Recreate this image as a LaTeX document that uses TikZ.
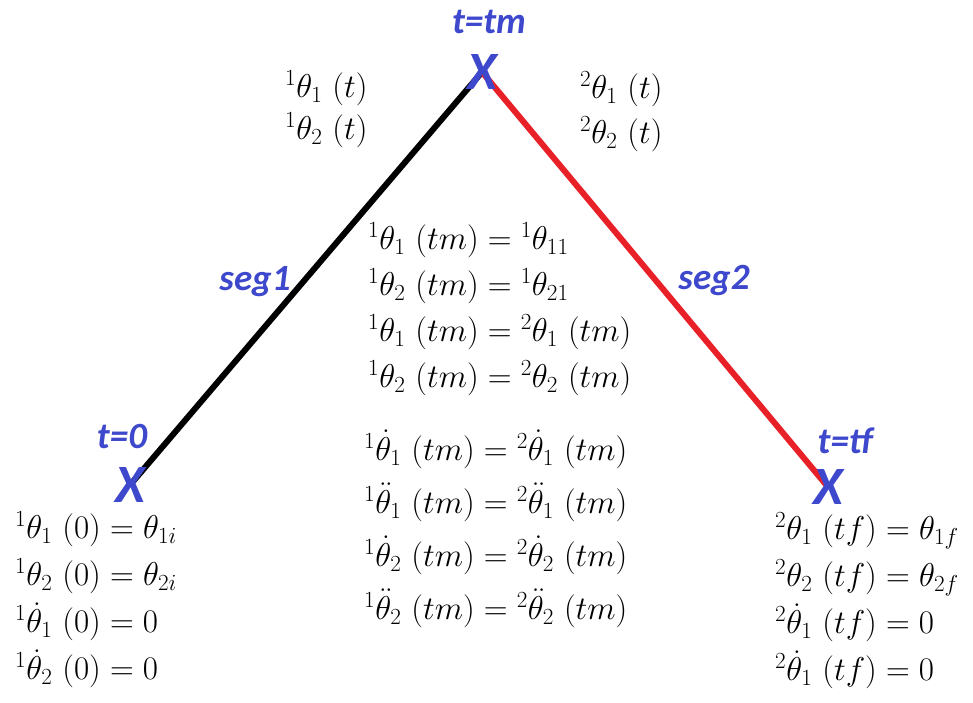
\RequirePackage{fix-cm}
\documentclass[tikz,border=0pt]{standalone}
\usepackage{fontspec}
\newfontfamily\lblfont{Carlito}
\usetikzlibrary{backgrounds}
\definecolor{markblue}{RGB}{62,72,204}
\definecolor{segred}{RGB}{232,32,40}
\begin{document}
\begin{tikzpicture}[x=1pt, y=-1pt,
        xmark/.style={text=markblue, font=\lblfont\bfseries\itshape\fontsize{54}{54}\selectfont, inner sep=0pt},
        tlabel/.style={text=markblue, font=\lblfont\bfseries\itshape\fontsize{37}{37}\selectfont, inner sep=0pt},
        eqs/.style={font=\fontsize{33}{#1}\selectfont, inner sep=0pt, anchor=west, align=left},
        seg/.style={line width=6pt}]
        \useasboundingbox (0,0) rectangle (973,702);

        % Punkty
        \node[xmark] (x0) at (130,485) {X};
        \node[xmark] (xm) at (482,72) {X};
        \node[xmark] (xf) at (828,487) {X};
        \node[tlabel] (t0) at (122,437) {t=0};
        \node[tlabel] (tm) at (489,22) {t=tm};
        \node[tlabel] (tf) at (845,441) {t=tf};

        % Segmenty
        \begin{pgfonlayer}{background}
        \draw[seg] (x0.center) -- (xm.center);
        \draw[seg, segred] (xm.center) -- (xf.center);
        \end{pgfonlayer}
        \node[tlabel] (s1) at (255,282) {seg1};
        \node[tlabel] (s2) at (714,280) {seg2};

        % Funkcje
        \node[eqs=42] (f1) at (285,109) {${}^{1}\theta_1\ (t)$\\ ${}^{1}\theta_2\ (t)$};
        \node[eqs=45] (f2) at (580,112) {${}^{2}\theta_1\ (t)$\\ ${}^{2}\theta_2\ (t)$};

        % Warunki poczatkowe
        \node[eqs=47] (c0) at (15,600) {${}^{1}\theta_1\ (0)=\theta_{1i}$\\
            ${}^{1}\theta_2\ (0)=\theta_{2i}$\\
            ${}^{1}\dot\theta_1\ (0)=0$\\
            ${}^{1}\dot\theta_2\ (0)=0$};

        % Warunki w tm
        \node[eqs=46] (cm1) at (368,309) {${}^{1}\theta_1\ (tm)={}^{1}\theta_{11}$\\
            ${}^{1}\theta_2\ (tm)={}^{1}\theta_{21}$\\
            ${}^{1}\theta_1\ (tm)={}^{2}\theta_1\ (tm)$\\
            ${}^{1}\theta_2\ (tm)={}^{2}\theta_2\ (tm)$};
        \node[eqs=53] (cm2) at (364,529) {${}^{1}\dot\theta_1\ (tm)={}^{2}\dot\theta_1\ (tm)$\\
            ${}^{1}\ddot\theta_1\ (tm)={}^{2}\ddot\theta_1\ (tm)$\\
            ${}^{1}\dot\theta_2\ (tm)={}^{2}\dot\theta_2\ (tm)$\\
            ${}^{1}\ddot\theta_2\ (tm)={}^{2}\ddot\theta_2\ (tm)$};

        % Warunki koncowe
        \node[eqs=47] (cf) at (775,601) {${}^{2}\theta_1\ (tf)=\theta_{1f}$\\
            ${}^{2}\theta_2\ (tf)=\theta_{2f}$\\
            ${}^{2}\dot\theta_1\ (tf)=0$\\
            ${}^{2}\dot\theta_1\ (tf)=0$};
\end{tikzpicture}
\end{document}
